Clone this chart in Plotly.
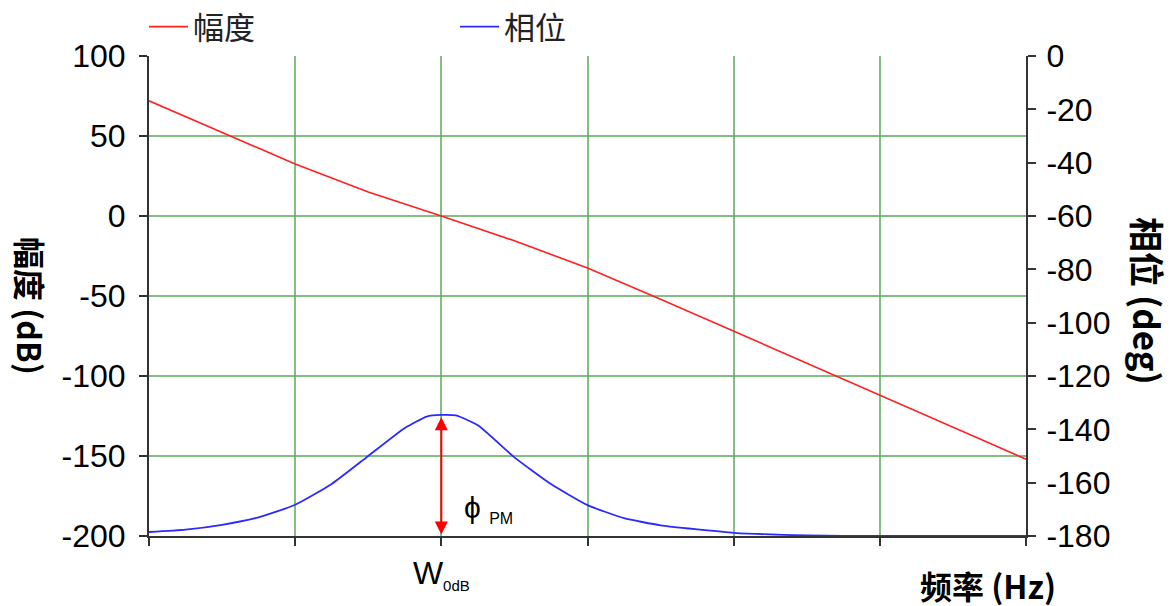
import plotly.graph_objects as go

# Data
freq_mag = [0, 0.5, 1, 1.5, 2, 2.5, 3, 3.5, 4, 4.5, 5, 5.5, 6]
magnitude_db = [72, 52, 32.5, 15, 0, -15.5, -32.5, -52, -72, -92, -112, -132, -152]

freq_phase = [0, 0.25, 0.5, 0.75, 1.0, 1.25, 1.5, 1.75, 1.9, 2.0, 2.1, 2.25, 2.5, 2.75,
              3.0, 3.25, 3.5, 3.75, 4.0, 4.5, 5, 5.5, 6]
phase_deg = [-178.5, -177.6, -175.8, -173, -168.3, -160.5, -150, -139.5, -135.2, -134.6,
             -134.8, -138.5, -150.5, -160.5, -168.4, -173.3, -176, -177.5, -178.8,
             -179.8, -180, -180, -180]

x_ticks = [0, 1, 2, 3, 4, 5, 6]
x_ticktext = ["", "", "W<sub><span style='font-size:15px'>0dB</span></sub>", "", "", "", ""]
mag_ticks = [100, 50, 0, -50, -100, -150, -200]
mag_ticktext = ["100", "50", "0", "-50", "-100", "-150", "-200"]
phase_ticks = [0, -20, -40, -60, -80, -100, -120, -140, -160, -180]
phase_ticktext = ["0", "-20", "-40", "-60", "-80", "-100", "-120", "-140", "-160", "-180"]

w0db = 2
pm_top = -135.5
pm_bottom = -180

GRID = "rgba(90,170,90,0.75)"
AXIS = "#333333"
FONT = "Liberation Sans, Arial, sans-serif"
CJK = "Noto Sans CJK SC, sans-serif"

# the page body adds an 8px offset; figure coords = page coords - 8
OFF = 8
W, H = 1165, 598
L, T = 149 - OFF, 56 - OFF
PW, PH = 877, 480
R, B = W - L - PW, H - T - PH


def to_paper(xpage, ypage):
    return (xpage - OFF - L) / PW, (H - B - (ypage - OFF)) / PH


fig = go.Figure()
fig.add_trace(go.Scatter(x=freq_mag, y=magnitude_db, mode="lines", name="幅度",
                         line=dict(color="#ff2020", width=1.6)))
fig.add_trace(go.Scatter(x=freq_phase, y=phase_deg, mode="lines", name="相位", yaxis="y2",
                         line=dict(color="#2a2aff", width=1.8, shape="spline", smoothing=0.5)))

lx, _ = to_paper(144, 0)
fig.update_layout(
    width=W, height=H,
    margin=dict(l=L, r=R, t=T, b=B, autoexpand=False),
    paper_bgcolor="white", plot_bgcolor="white",
    font=dict(family=FONT, size=32, color="black"),
    showlegend=True,
    legend=dict(orientation="h", x=lx, xanchor="left", y=1 + (T + 8) / PH, yanchor="top",
                itemwidth=39, entrywidth=257, entrywidthmode="pixels",
                font=dict(family=CJK, size=31, color="#222222"),
                bgcolor="rgba(0,0,0,0)"),
    xaxis=dict(range=[0, 6], tickvals=x_ticks, ticktext=x_ticktext,
               showgrid=True, gridcolor=GRID, gridwidth=1.5,
               showline=True, linecolor=AXIS, linewidth=2,
               ticks="outside", ticklen=8, tickcolor=AXIS, tickwidth=1.5,
               tickfont=dict(size=32, family=FONT), zeroline=False, automargin=False),
    yaxis=dict(range=[-200, 100], tickvals=mag_ticks, ticktext=mag_ticktext,
               showgrid=True, gridcolor=GRID, gridwidth=1.5,
               showline=True, linecolor=AXIS, linewidth=2,
               ticks="outside", ticklen=8, tickcolor=AXIS, tickwidth=1.5,
               ticklabelstandoff=7,
               tickfont=dict(size=32, family=FONT), zeroline=False, automargin=False),
    yaxis2=dict(range=[-180, 0], tickvals=phase_ticks, ticktext=phase_ticktext,
                overlaying="y", side="right",
                showgrid=False, showline=True, linecolor=AXIS, linewidth=2,
                ticks="outside", ticklen=8, tickcolor=AXIS, tickwidth=1.5,
                ticklabelstandoff=4,
                tickfont=dict(size=32, family=FONT), zeroline=False, automargin=False),
)

# phase margin arrow
fig.add_annotation(x=w0db, y=pm_top, ax=w0db, ay=pm_bottom, xref="x", yref="y2",
                   axref="x", ayref="y2", text="", showarrow=True,
                   arrowhead=2, arrowside="end+start", arrowsize=1.3, arrowwidth=2,
                   arrowcolor="#ff0000", standoff=0, startstandoff=0)
fig.add_annotation(x=2.14, y=-170, xref="x", yref="y2", xanchor="left", yanchor="middle",
                   text="ϕ <sub><span style='font-size:16px'>PM</span></sub>",
                   showarrow=False, font=dict(size=30, family=FONT, color="black"))

# axis titles (positions given in page pixels)
for text, xp, yp, ang, size in [("<b>幅度 (dB)</b>", 31, 306, 90, 32),
                                ("<b>相位 (deg)</b>", 1149, 301, 90, 35),
                                ("<b>频率 (Hz)</b>", 988, 585, 0, 32)]:
    ax_, ay_ = to_paper(xp, yp)
    fig.add_annotation(x=ax_, y=ay_, xref="paper", yref="paper", text=text,
                       xanchor="center", yanchor="middle",
                       showarrow=False, textangle=ang,
                       font=dict(size=size, family=CJK, color="black"))

fig.write_html("out.html")
